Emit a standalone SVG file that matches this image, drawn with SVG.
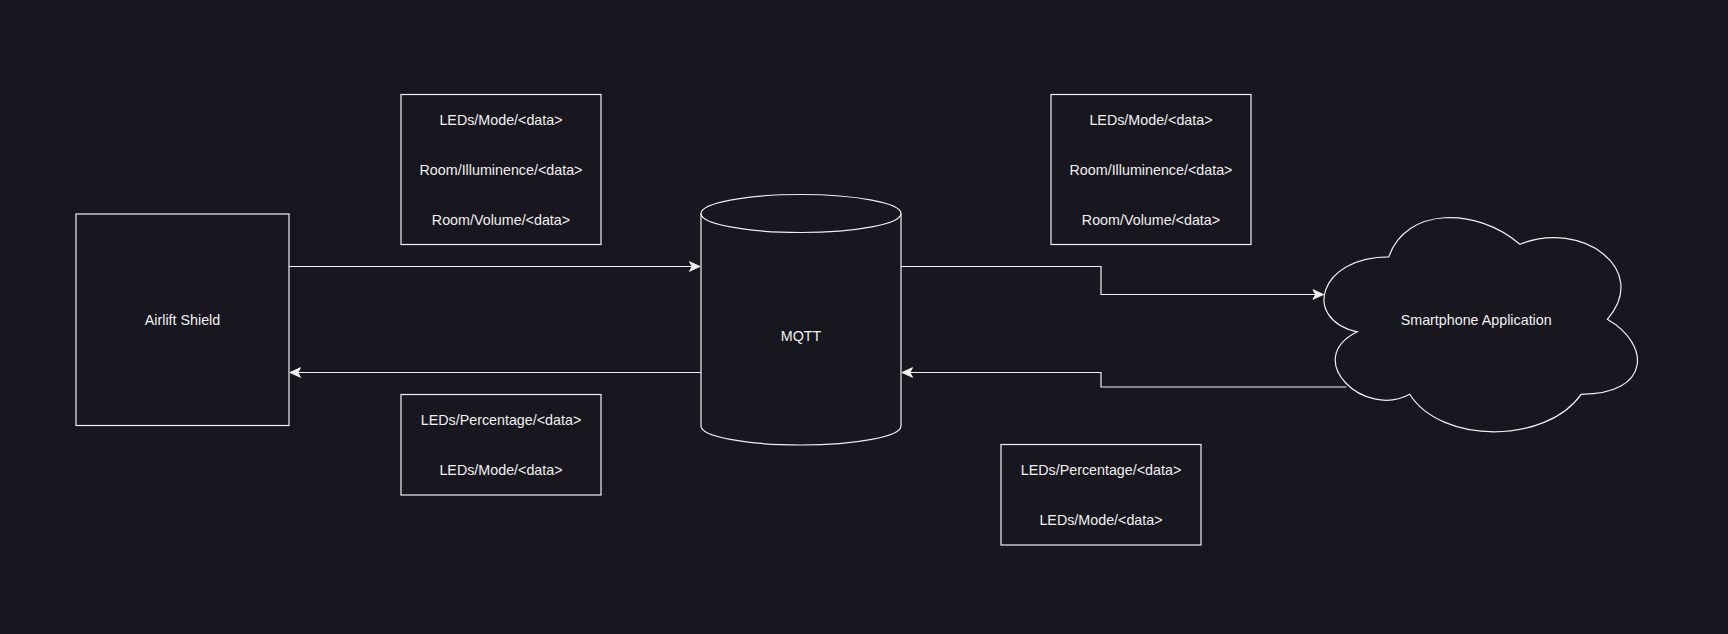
<svg xmlns="http://www.w3.org/2000/svg" width="1728" height="634" viewBox="0 0 1728 634">
  <style>
    .shape { fill: #18161e; stroke: #f0f0f0; stroke-width: 1.2; }
    .edge { fill: none; stroke: #f0f0f0; stroke-width: 1.2; }
    .lbl { fill: #f0f0f0; font-family: "Liberation Sans", Arial, Helvetica, sans-serif; font-size: 14.3px; text-anchor: middle; dominant-baseline: central; }
  </style>
  <defs>
    <marker id="arrow" markerUnits="userSpaceOnUse" markerWidth="12" markerHeight="12" refX="11" refY="6" orient="auto" overflow="visible">
      <path d="M11,6 L0.5,1.2 L3.2,6 L0.5,10.8 Z" fill="#f0f0f0" stroke="#f0f0f0" stroke-width="1"/>
    </marker>
  </defs>
  <rect x="0" y="0" width="1728" height="634" fill="#18161e"/>

  <g id="connectors">
    <path class="edge" d="M289,266.5 L700,266.5" marker-end="url(#arrow)"/>
    <path class="edge" d="M701,372.5 L290,372.5" marker-end="url(#arrow)"/>
    <path class="edge" d="M901,266.5 L1101,266.5 L1101,294.5 L1323.5,294.5" marker-end="url(#arrow)"/>
    <path class="edge" d="M1346.5,387 L1101,387 L1101,372.5 L902,372.5" marker-end="url(#arrow)"/>
  </g>

  <g id="airlift-shield">
    <rect class="shape" x="76" y="214" width="213" height="211.5"/>
    <text class="lbl" x="182.5" y="319.5">Airlift Shield</text>
  </g>

  <g id="mqtt">
    <path class="shape" d="M701,213.5 A100,19 0 0 1 901,213.5 L901,426 A100,19 0 0 1 701,426 Z"/>
    <path class="edge" d="M701,213.5 A100,19 0 0 0 901,213.5"/>
    <text class="lbl" x="801" y="336">MQTT</text>
  </g>

  <g id="smartphone-application">
    <path class="shape" d="M1388.8,256.8 C1318.8,256.8 1301.3,319.3 1357.3,331.8 C1301.3,359.3 1364.3,419.3 1409.7,394.3 C1441.2,444.3 1546.1,444.3 1581.1,394.3 C1651.1,394.3 1651.1,344.3 1607.3,319.3 C1651.1,269.3 1581.1,219.3 1519.9,244.3 C1476.2,206.8 1406.2,206.8 1388.8,256.8 Z"/>
    <text class="lbl" x="1476.2" y="319.5">Smartphone Application</text>
  </g>

  <g id="topics-top-left">
    <rect class="shape" x="401" y="94.5" width="200" height="150"/>
    <text class="lbl" x="501" y="120">LEDs/Mode/&lt;data&gt;</text>
    <text class="lbl" x="501" y="170">Room/Illuminence/&lt;data&gt;</text>
    <text class="lbl" x="501" y="220">Room/Volume/&lt;data&gt;</text>
  </g>

  <g id="topics-bottom-left">
    <rect class="shape" x="401" y="394.5" width="200" height="100.5"/>
    <text class="lbl" x="501" y="420">LEDs/Percentage/&lt;data&gt;</text>
    <text class="lbl" x="501" y="469.5">LEDs/Mode/&lt;data&gt;</text>
  </g>

  <g id="topics-top-right">
    <rect class="shape" x="1051" y="94.5" width="200" height="150"/>
    <text class="lbl" x="1151" y="120">LEDs/Mode/&lt;data&gt;</text>
    <text class="lbl" x="1151" y="170">Room/Illuminence/&lt;data&gt;</text>
    <text class="lbl" x="1151" y="220">Room/Volume/&lt;data&gt;</text>
  </g>

  <g id="topics-bottom-right">
    <rect class="shape" x="1001" y="444.5" width="200" height="100.5"/>
    <text class="lbl" x="1101" y="470">LEDs/Percentage/&lt;data&gt;</text>
    <text class="lbl" x="1101" y="519.5">LEDs/Mode/&lt;data&gt;</text>
  </g>
</svg>
